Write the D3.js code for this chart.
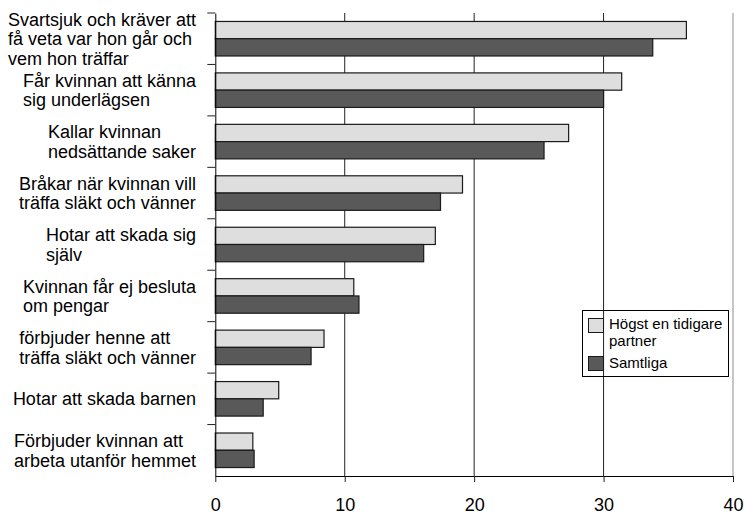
<!DOCTYPE html>
<html><head><meta charset="utf-8">
<script src="https://cdn.jsdelivr.net/npm/d3@7"></script>
<style>
html,body{margin:0;padding:0;background:#fff;}
svg{display:block;font-family:"Liberation Sans",Arial,sans-serif;}
</style></head>
<body>
<svg id="chart" width="744" height="514"></svg>
<script>
const categories = [
  "Svartsjuk och kräver att\nfå veta var hon går och\nvem hon träffar",
  "Får kvinnan att känna\nsig underlägsen",
  "Kallar kvinnan\nnedsättande saker",
  "Bråkar när kvinnan vill\nträffa släkt och vänner",
  "Hotar att skada sig\nsjälv",
  "Kvinnan får ej besluta\nom pengar",
  "förbjuder henne att\nträffa släkt och vänner",
  "Hotar att skada barnen",
  "Förbjuder kvinnan att\narbeta utanför hemmet"
];
const seriesNames = ["Högst en tidigare partner", "Samtliga"];
const legendLabels = [["Högst en tidigare", "partner"], ["Samtliga"]];
const hogst = [36.4, 31.4, 27.3, 19.1, 17.0, 10.7, 8.4, 4.9, 2.9];
const samtliga = [33.8, 30.0, 25.4, 17.4, 16.1, 11.1, 7.4, 3.7, 3.0];
const xTicks = [0, 10, 20, 30, 40];
const colors = ["#dedede", "#595959"];

const svg = d3.select("#chart");
const L = 215.3, R = 733, T = 13, B = 476;

const x = d3.scaleLinear().domain([0, 40]).range([L, R]);
const y = d3.scaleBand().domain(d3.range(categories.length)).range([T, B]).padding(0);
const ys = d3.scaleBand().domain([0, 1]).range([0, y.bandwidth()]).paddingInner(0).paddingOuter(0.49);

// gridlines
svg.append("g").selectAll("line").data(xTicks.slice(1)).join("line")
  .attr("x1", d => x(d)).attr("x2", d => x(d))
  .attr("y1", T).attr("y2", B)
  .attr("stroke", d => d === 40 ? "#8c8c8c" : "#222").attr("stroke-width", 1);

// bars
const data = categories.map((c, i) => ({i, vals: [hogst[i], samtliga[i]]}));
const g = svg.append("g").selectAll("g").data(data).join("g")
  .attr("transform", d => `translate(0,${y(d.i)})`);
g.selectAll("rect").data(d => d.vals.map((v, k) => ({v, k}))).join("rect")
  .attr("x", x(0)).attr("y", d => ys(d.k))
  .attr("width", d => x(d.v) - x(0)).attr("height", ys.bandwidth())
  .attr("fill", d => colors[d.k]).attr("stroke", "#1a1a1a").attr("stroke-width", 1.2);

// x axis
const xAxis = d3.axisBottom(x).tickValues(xTicks).tickSize(6).tickSizeOuter(0).tickPadding(16);
const xg = svg.append("g").attr("transform", `translate(0,${B})`).call(xAxis);
xg.select(".domain").attr("stroke", "#000");
xg.selectAll(".tick line").attr("stroke", "#222");
xg.selectAll("text").attr("font-size", 18).attr("fill", "#000")
  .attr("font-family", "Liberation Sans, Arial, sans-serif");

// y axis
const yAxis = d3.axisLeft(y).tickFormat("").tickSize(0).tickSizeOuter(0);
const yg = svg.append("g").attr("transform", `translate(${L},0)`).call(yAxis);
yg.select(".domain").attr("stroke", "#000");
yg.selectAll(".tick").remove();
svg.append("g").selectAll("line").data(d3.range(categories.length)).join("line")
  .attr("x1", L - 8).attr("x2", L).attr("y1", d => y(d)).attr("y2", d => y(d))
  .attr("stroke", "#222");

// category labels
const lh = 19.5;
const lab = svg.append("g").attr("font-size", 18).attr("fill", "#000");
categories.forEach((c, i) => {
  const lines = c.split("\n");
  const t = lab.append("text");
  const cy = y(i) + y.bandwidth() / 2;
  const y0 = cy - (lines.length - 1) * lh / 2 + 6.5;
  lines.forEach((ln, j) => t.append("tspan").attr("y", y0 + j * lh).text(ln));
  let maxW = 0;
  t.selectAll("tspan").each(function(){ maxW = Math.max(maxW, this.getComputedTextLength()); });
  t.selectAll("tspan").attr("x", 196 - maxW);
});

// legend
const lg = svg.append("g");
lg.append("rect").attr("x", 582.5).attr("y", 310.5).attr("width", 146).attr("height", 66)
  .attr("fill", "none").attr("stroke", "#000").attr("stroke-width", 1);
const sw = [[318.5], [356.5]];
seriesNames.forEach((s, k) => {
  lg.append("rect").attr("x", 588.5).attr("y", sw[k][0]).attr("width", 15).attr("height", 14)
    .attr("fill", colors[k]).attr("stroke", "#1a1a1a");
});
const lt = lg.append("g").attr("font-size", 15).attr("fill", "#000");
const lBase = [[329, 345.5], [367.5]];
legendLabels.forEach((lines, k) => {
  lines.forEach((ln, j) => lt.append("text").attr("x", 609).attr("y", lBase[k][j]).text(ln));
});
</script>
</body></html>
